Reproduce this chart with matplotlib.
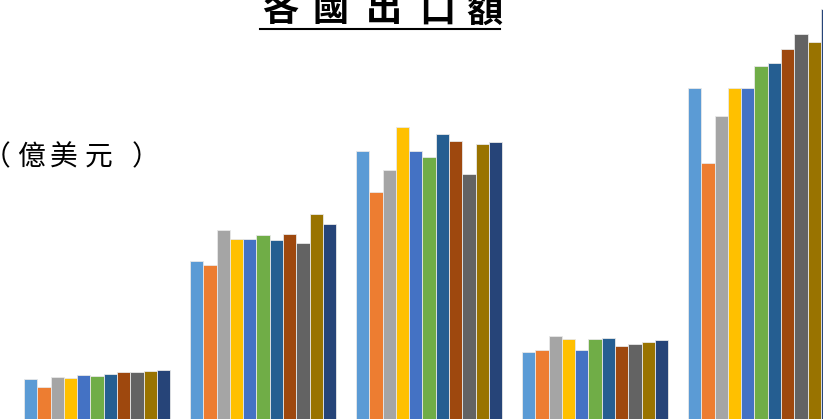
import numpy as np
import matplotlib.pyplot as plt

plt.rcParams['font.family'] = ['Noto Sans CJK TC', 'DejaVu Sans']

# data (units: 億美元, arbitrary scale)
countries = ['A', 'B', 'C', 'D', 'E']
years = ['2008', '2009', '2010', '2011', '2012', '2013',
         '2014', '2015', '2016', '2017', '2018']
vals_a = [40.0, 31.7, 42.0, 40.7, 44.0, 43.0, 45.0, 47.0, 46.7, 47.7, 49.3]
vals_b = [158.3, 153.7, 188.7, 179.7, 180.0, 184.0, 179.0, 184.7, 176.3, 205.0, 195.0]
vals_c = [267.7, 226.7, 249.3, 291.7, 268.3, 262.0, 284.7, 277.7, 245.3, 275.3, 277.3]
vals_d = [67.3, 69.3, 82.7, 80.0, 69.3, 79.7, 81.0, 72.7, 75.3, 77.0, 78.7]
vals_e = [331.3, 256.3, 302.7, 331.3, 331.3, 353.3, 355.7, 370.0, 384.7, 377.3, 410.0]

colors = ['#5B9BD5', '#ED7D31', '#A5A5A5', '#FFC000', '#4472C4', '#70AD47',
          '#255E91', '#9E480E', '#636363', '#997300', '#264478']

data = np.array([vals_a, vals_b, vals_c, vals_d, vals_e])  # country x year

W, H = 823, 419
fig = plt.figure(figsize=(W / 100, H / 100), dpi=100)
ax = fig.add_axes([0, 0, 1, 1])

x = np.arange(len(countries))
w = 0.0801
n = len(years)
for j in range(n):
    # left edge of group is x - n*w/2
    ax.bar(x - n * w / 2 + j * w, data[:, j], width=w, align='edge',
           color=colors[j], edgecolor='#e8e8e8', linewidth=0.6, label=years[j])

ax.set_xlim(-0.585, 4.373)
ax.set_ylim(0, 419)
ax.axis('off')

# title, spaced out like the original (top is cut by the image edge)
title = '各國出口額'
title_x = [280, 331, 384, 437, 484]
for ch, px in zip(title, title_x):
    fig.text(px / W, 1 - 11 / H, ch, fontsize=26, fontweight='bold',
             ha='center', va='center')
fig.add_artist(plt.Line2D([260 / W, 500 / W], [1 - 29.5 / H, 1 - 29.5 / H],
                          color='black', linewidth=1.5))

# unit label (full-width parens sit at one side of their box)
fig.text(-17 / W, 1 - 157 / H, '（', fontsize=20, ha='left', va='center')
for ch, px in zip('億美元', [31, 64, 99]):
    fig.text(px / W, 1 - 157 / H, ch, fontsize=20, ha='center', va='center')
fig.text(132 / W, 1 - 157 / H, '）', fontsize=20, ha='left', va='center')

plt.savefig('out.png', dpi=100)
